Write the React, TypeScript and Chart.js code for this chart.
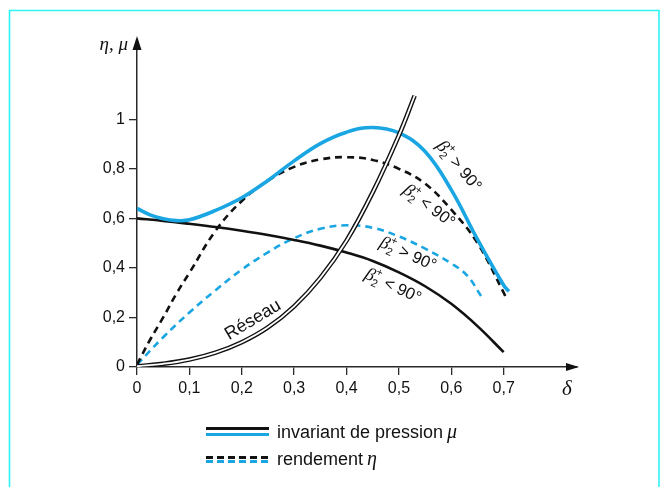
import React, { useEffect, useRef } from 'react';
import { Chart, registerables } from 'chart.js';

Chart.register(...registerables);

// ---- tick labels ----
const xTicks = [0, 0.1, 0.2, 0.3, 0.4, 0.5, 0.6, 0.7];
const yTicks = [0, 0.2, 0.4, 0.6, 0.8, 1];

// ---- invariant de pression μ, β2+ > 90° (solid blue) ----
const muHighDelta = [0, 0.025, 0.05, 0.075, 0.1, 0.15, 0.2, 0.25, 0.3, 0.35, 0.4, 0.45, 0.5, 0.55, 0.6, 0.65, 0.7, 0.71];
const muHigh = [0.64, 0.614, 0.598, 0.591, 0.594, 0.632, 0.683, 0.753, 0.832, 0.902, 0.948, 0.967, 0.945, 0.87, 0.715, 0.515, 0.33, 0.305];

// ---- invariant de pression μ, β2+ < 90° (solid black) ----
const muLowDelta = [0, 0.05, 0.1, 0.15, 0.2, 0.25, 0.3, 0.35, 0.4, 0.45, 0.5, 0.55, 0.6, 0.65, 0.7];
const muLow = [0.6, 0.59, 0.578, 0.565, 0.55, 0.533, 0.513, 0.49, 0.462, 0.428, 0.382, 0.326, 0.255, 0.165, 0.06];

// ---- rendement η, β2+ < 90° (dashed black) ----
const etaLowDelta = [0, 0.025, 0.05, 0.075, 0.1, 0.15, 0.2, 0.25, 0.3, 0.35, 0.4, 0.45, 0.5, 0.55, 0.6, 0.65, 0.7, 0.706];
const etaLow = [0.01, 0.11, 0.2, 0.295, 0.38, 0.55, 0.67, 0.752, 0.808, 0.838, 0.847, 0.836, 0.8, 0.74, 0.635, 0.5, 0.3, 0.27];

// ---- rendement η, β2+ > 90° (dashed blue) ----
const etaHighDelta = [0, 0.05, 0.1, 0.15, 0.2, 0.25, 0.3, 0.35, 0.4, 0.45, 0.5, 0.55, 0.6, 0.63, 0.658];
const etaHigh = [0.01, 0.12, 0.22, 0.31, 0.393, 0.463, 0.52, 0.558, 0.572, 0.562, 0.527, 0.478, 0.418, 0.37, 0.283];

// ---- Réseau (double line) ----
const reseauDelta = [0, 0.05, 0.1, 0.15, 0.2, 0.25, 0.3, 0.35, 0.4, 0.45, 0.5, 0.53];
const reseau = [0.003, 0.013, 0.03, 0.058, 0.1, 0.16, 0.245, 0.36, 0.51, 0.705, 0.935, 1.095];

const BLUE = '#1aa6e2';
const AXIS = '#2a2a2a';
const SANS = '"Liberation Sans", Arial, sans-serif';
const SERIF = '"Liberation Serif", "DejaVu Serif", serif';

const pts = (xs: number[], ys: number[]) => xs.map((x, i) => ({ x, y: ys[i] }));
const fmt = (v: number) => String(Number(v.toFixed(1))).replace('.', ',');

function drawBeta(ctx: CanvasRenderingContext2D, cx: number, cy: number, deg: number, op: string) {
  ctx.save();
  ctx.translate(cx, cy);
  ctx.rotate((deg * Math.PI) / 180);
  ctx.fillStyle = '#111';
  ctx.textBaseline = 'alphabetic';
  const fBeta = `italic 18px ${SERIF}`;
  const fSmall = `11px ${SANS}`;
  const fMain = `16.5px ${SANS}`;
  ctx.font = fBeta;
  const wB = ctx.measureText('β').width;
  ctx.font = fSmall;
  const wS = Math.max(ctx.measureText('2').width, ctx.measureText('+').width);
  ctx.font = fMain;
  const rest = ` ${op} 90°`;
  const wR = ctx.measureText(rest).width;
  const total = wB + wS + 1 + wR;
  let x = -total / 2;
  const base = 5;
  ctx.font = fBeta;
  ctx.fillText('β', x, base);
  x += wB;
  ctx.font = fSmall;
  ctx.fillText('+', x, base - 8);
  ctx.fillText('2', x, base + 4);
  x += wS + 1;
  ctx.font = fMain;
  ctx.fillText(rest, x, base);
  ctx.restore();
}

const decorPlugin = {
  id: 'decor',
  beforeDraw(chart: any) {
    const ctx: CanvasRenderingContext2D = chart.ctx;
    ctx.save();
    ctx.fillStyle = '#ffffff';
    ctx.fillRect(0, 0, chart.width, chart.height);
    ctx.strokeStyle = '#30f4f4';
    ctx.lineWidth = 1.6;
    ctx.beginPath();
    ctx.moveTo(9.5, 487);
    ctx.lineTo(9.5, 10.5);
    ctx.lineTo(659, 10.5);
    ctx.lineTo(659, 487);
    ctx.stroke();
    ctx.restore();
  },
  afterDraw(chart: any) {
    const ctx: CanvasRenderingContext2D = chart.ctx;
    const a = chart.chartArea;
    ctx.save();
    // axis arrows
    ctx.fillStyle = '#111';
    ctx.beginPath();
    ctx.moveTo(a.left, a.top - 4);
    ctx.lineTo(a.left - 4.5, a.top + 10);
    ctx.lineTo(a.left + 4.5, a.top + 10);
    ctx.closePath();
    ctx.fill();
    ctx.beginPath();
    ctx.moveTo(a.right + 2, a.bottom);
    ctx.lineTo(a.right - 11, a.bottom - 4);
    ctx.lineTo(a.right - 11, a.bottom + 4);
    ctx.closePath();
    ctx.fill();

    // axis titles
    ctx.fillStyle = '#111';
    ctx.textBaseline = 'middle';
    ctx.textAlign = 'right';
    ctx.font = `italic 19px ${SERIF}`;
    ctx.fillText('η, μ', a.left - 9, a.top + 5);
    ctx.textAlign = 'center';
    ctx.font = `italic 21px ${SERIF}`;
    ctx.fillText('δ', a.right - 10, a.bottom + 22);

    // curve labels
    ctx.textAlign = 'left';
    drawBeta(ctx, 459, 166, 50, '>');
    drawBeta(ctx, 429, 206, 37, '<');
    drawBeta(ctx, 408, 254, 24, '>');
    drawBeta(ctx, 393, 286, 25, '<');

    // Réseau label
    ctx.save();
    ctx.translate(253, 320);
    ctx.rotate((-31 * Math.PI) / 180);
    ctx.textAlign = 'center';
    ctx.textBaseline = 'middle';
    ctx.font = `18px ${SANS}`;
    ctx.fillStyle = '#111';
    ctx.fillText('Réseau', 0, 0);
    ctx.restore();

    // legend
    const lx0 = 206, lx1 = 269;
    ctx.lineWidth = 3;
    ctx.strokeStyle = '#111';
    ctx.beginPath(); ctx.moveTo(lx0, 428.5); ctx.lineTo(lx1, 428.5); ctx.stroke();
    ctx.strokeStyle = BLUE;
    ctx.beginPath(); ctx.moveTo(lx0, 434.5); ctx.lineTo(lx1, 434.5); ctx.stroke();
    ctx.setLineDash([7, 4]);
    ctx.strokeStyle = '#111';
    ctx.beginPath(); ctx.moveTo(lx0, 457.5); ctx.lineTo(lx1, 457.5); ctx.stroke();
    ctx.strokeStyle = BLUE;
    ctx.beginPath(); ctx.moveTo(lx0, 461.5); ctx.lineTo(lx1, 461.5); ctx.stroke();
    ctx.setLineDash([]);

    ctx.fillStyle = '#111';
    ctx.textAlign = 'left';
    ctx.textBaseline = 'alphabetic';
    ctx.font = `18px ${SANS}`;
    const t1 = 'invariant de pression ';
    ctx.fillText(t1, 277, 438);
    const w1 = ctx.measureText(t1).width;
    ctx.font = `italic 20px ${SERIF}`;
    ctx.fillText('μ', 277 + w1 - 1, 438);
    ctx.font = `18px ${SANS}`;
    const t2 = 'rendement ';
    ctx.fillText(t2, 277, 465);
    const w2 = ctx.measureText(t2).width;
    ctx.font = `italic 20px ${SERIF}`;
    ctx.fillText('η', 277 + w2 - 1, 465);
    ctx.restore();
  },
};

export default function App() {
  const ref = useRef<HTMLCanvasElement | null>(null);

  useEffect(() => {
    if (!ref.current) return;
    Chart.defaults.font.family = SANS;
    const line = (data: any[], color: string, width: number, dash: number[], order: number) => ({
      data,
      borderColor: color,
      borderWidth: width,
      borderDash: dash,
      pointRadius: 0,
      showLine: true,
      fill: false,
      tension: 0.4,
      order,
    });
    const chart = new Chart(ref.current, {
      type: 'scatter',
      data: {
        datasets: [
          line(pts(reseauDelta, reseau), '#ffffff', 1.8, [], 0),
          line(pts(reseauDelta, reseau), '#111111', 4.6, [], 1),
          line(pts(muHighDelta, muHigh), BLUE, 3.6, [], 2),
          line(pts(muLowDelta, muLow), '#111111', 2.6, [], 3),
          line(pts(etaLowDelta, etaLow), '#111111', 2.6, [7, 5], 4),
          line(pts(etaHighDelta, etaHigh), BLUE, 2.6, [7, 5], 5),
        ],
      },
      plugins: [decorPlugin],
      options: {
        responsive: false,
        animation: false,
        layout: { padding: { left: 97, right: 87, top: 40, bottom: 80 } },
        plugins: { legend: { display: false }, tooltip: { enabled: false } },
        events: [],
        scales: {
          x: {
            type: 'linear',
            min: 0,
            max: 0.84,
            afterFit: (s: any) => { s.height = 40; },
            afterBuildTicks: (s: any) => { s.ticks = xTicks.map((v) => ({ value: v })); },
            grid: { display: true, drawOnChartArea: false, drawTicks: true, tickLength: 8, color: AXIS, lineWidth: 1.3 },
            border: { display: true, color: AXIS, width: 1.5 },
            ticks: {
              color: '#111',
              font: { size: 16, family: SANS },
              padding: 4,
              maxRotation: 0,
              autoSkip: false,
              callback: (v: any) => fmt(Number(v)),
            },
          },
          y: {
            type: 'linear',
            min: 0,
            max: 1.32,
            afterFit: (s: any) => { s.width = 40; },
            afterBuildTicks: (s: any) => { s.ticks = yTicks.map((v) => ({ value: v })); },
            grid: { display: true, drawOnChartArea: false, drawTicks: true, tickLength: 8, color: AXIS, lineWidth: 1.3 },
            border: { display: true, color: AXIS, width: 1.5 },
            ticks: {
              color: '#111',
              font: { size: 16, family: SANS },
              padding: 4,
              autoSkip: false,
              callback: (v: any) => fmt(Number(v)),
            },
          },
        },
      } as any,
    });
    return () => chart.destroy();
  }, []);

  return (
    <div style={{ position: 'fixed', left: 0, top: 0, width: 664, height: 487, background: '#fff' }}>
      <canvas ref={ref} width={664} height={487} style={{ width: 664, height: 487, display: 'block' }} />
    </div>
  );
}
